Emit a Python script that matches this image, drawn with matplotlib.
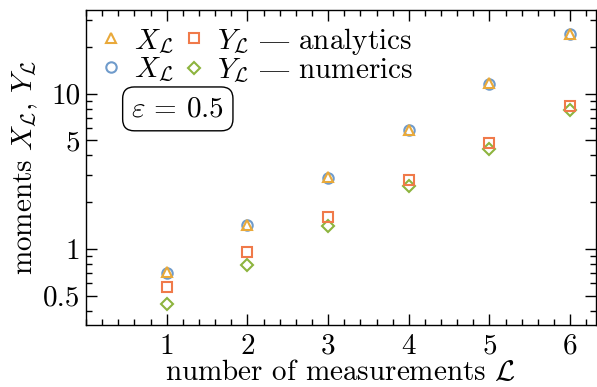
import matplotlib
matplotlib.use("Agg")
import matplotlib.pyplot as plt
from matplotlib.ticker import LogLocator, FixedLocator, MultipleLocator, NullFormatter, FixedFormatter

L = [1, 2, 3, 4, 5, 6]
X_analytic = [0.71, 1.43, 2.88, 5.86, 11.7, 24.3]
X_numeric = [0.70, 1.42, 2.86, 5.82, 11.6, 24.1]
Y_analytic = [0.57, 0.95, 1.60, 2.76, 4.81, 8.28]
Y_numeric = [0.44, 0.79, 1.41, 2.52, 4.40, 7.88]

ytick_vals = [0.5, 1, 5, 10]
ytick_labels = ["0.5", "1", "5", "10"]
xtick_vals = [1, 2, 3, 4, 5, 6]
xtick_labels = ["1", "2", "3", "4", "5", "6"]

plt.rcParams['font.family'] = ['cmr10', 'DejaVu Serif']
plt.rcParams['mathtext.fontset'] = 'cm'
plt.rcParams['axes.formatter.use_mathtext'] = True
plt.rcParams['font.size'] = 21

fig = plt.figure(figsize=(5.97, 3.87), dpi=100)
ax = fig.add_axes([86/597, 1-325/387, (596-86)/597, (325-9.5)/387])

c_tri = '#E9A93A'
c_circ = '#6F9BCB'
c_sq = '#F07A4A'
c_dia = '#8DB43E'
ms = 7.5
mew = 1.5

h1, = ax.plot(L, X_numeric, 'o', ms=ms, mfc='none', mec=c_circ, mew=mew, ls='none')
h0, = ax.plot(L, X_analytic, '^', ms=ms, mfc='none', mec=c_tri, mew=mew, ls='none')
h3, = ax.plot(L, Y_numeric, 'D', ms=6.3, mfc='none', mec=c_dia, mew=mew, ls='none')
h2, = ax.plot(L, Y_analytic, 's', ms=6.8, mfc='none', mec=c_sq, mew=mew, ls='none')

ax.set_yscale('log')
ax.set_xlim(0, 6.32)
ax.set_ylim(0.323, 34.8)

ax.xaxis.set_minor_locator(MultipleLocator(0.2))
ax.set_xticks(xtick_vals)
ax.set_xticklabels(xtick_labels)
ax.yaxis.set_major_locator(FixedLocator(ytick_vals))
ax.yaxis.set_major_formatter(FixedFormatter(ytick_labels))
ax.yaxis.set_minor_locator(LogLocator(base=10, subs=[2, 3, 4, 6, 7, 8, 9]))
ax.yaxis.set_minor_formatter(NullFormatter())

ax.tick_params(which='both', direction='in', top=True, right=True, width=1)
ax.tick_params(which='major', length=8)
ax.tick_params(which='minor', length=4.5)
ax.tick_params(axis='x', which='major', pad=6)
ax.tick_params(axis='y', which='major', pad=4)
for s in ax.spines.values():
    s.set_linewidth(1)

ax.set_xlabel(r"number of measurements $\mathcal{L}$", labelpad=0)
ax.set_ylabel(r"moments $X_\mathcal{L}$, $Y_\mathcal{L}$", labelpad=2)

dash = "$\u2014$"
leg = ax.legend([h0, h1, h2, h3],
                [r"$X_\mathcal{L}$", r"$X_\mathcal{L}$",
                 r"$Y_\mathcal{L}$ " + dash + " analytics",
                 r"$Y_\mathcal{L}$ " + dash + " numerics"],
                ncol=2, frameon=False, loc='upper left',
                bbox_to_anchor=(0.0, 1.0), handlelength=0.6, handletextpad=0.5,
                columnspacing=0.4, labelspacing=0.0, borderaxespad=0.15,
                prop={'family': ['cmr10', 'DejaVu Serif'], 'size': 21})

ax.text(0.18, 0.685, r"$\varepsilon\,=\,0.5$", transform=ax.transAxes,
        ha='center', va='center',
        bbox=dict(boxstyle='round,pad=0.3,rounding_size=0.4', fc='white', ec='black', lw=1))

fig.savefig("out.png", dpi=100)
